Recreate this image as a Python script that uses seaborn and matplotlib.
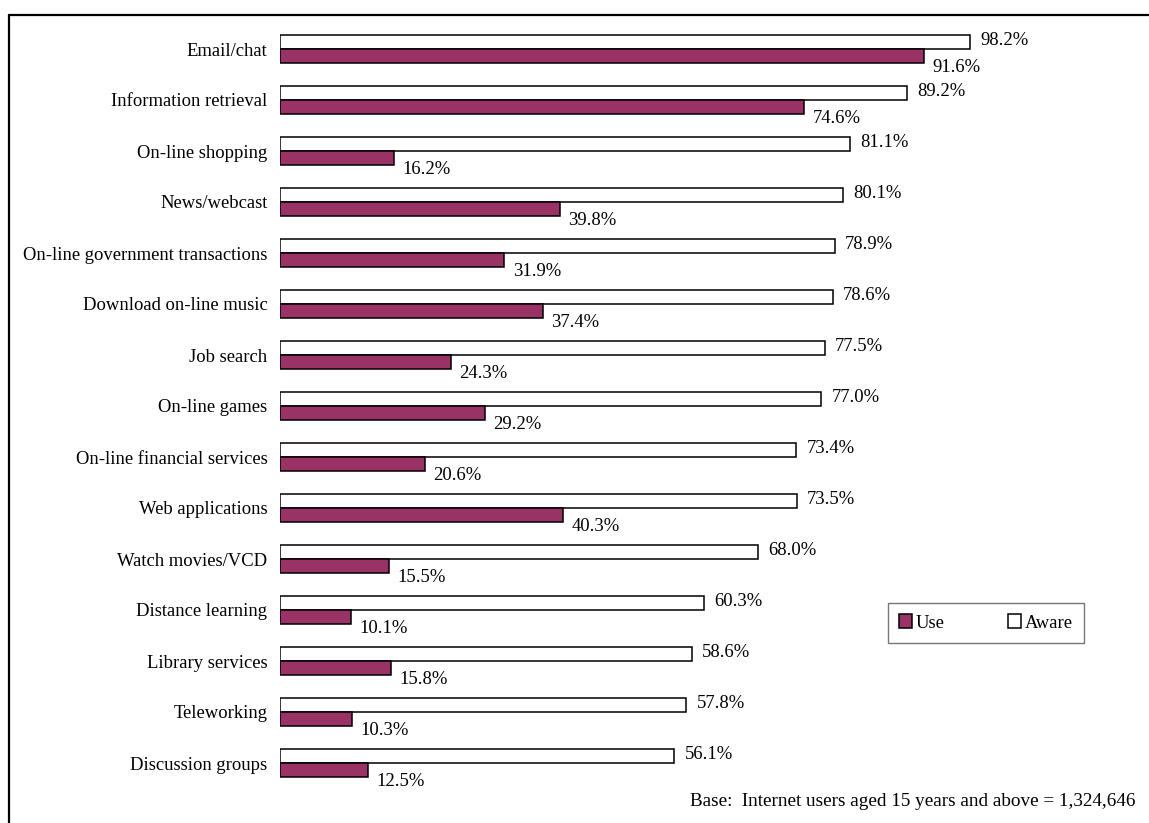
import matplotlib
matplotlib.use("Agg")
import matplotlib.pyplot as plt
from matplotlib.patches import Patch
from matplotlib.lines import Line2D
import seaborn as sns
import pandas as pd

services = [
    "Email/chat", "Information retrieval", "On-line shopping", "News/webcast",
    "On-line government transactions", "Download on-line music", "Job search",
    "On-line games", "On-line financial services", "Web applications",
    "Watch movies/VCD", "Distance learning", "Library services",
    "Teleworking", "Discussion groups",
]
aware = [98.2, 89.2, 81.1, 80.1, 78.9, 78.6, 77.5, 77.0, 73.4, 73.5, 68.0, 60.3, 58.6, 57.8, 56.1]
use = [91.6, 74.6, 16.2, 39.8, 31.9, 37.4, 24.3, 29.2, 20.6, 40.3, 15.5, 10.1, 15.8, 10.3, 12.5]

df = pd.DataFrame({
    "service": services * 2,
    "pct": aware + use,
    "group": ["Aware"] * len(services) + ["Use"] * len(services),
})

MAROON = "#993366"
sns.set_theme(style="white")
plt.rcParams["font.family"] = ["Liberation Serif", "DejaVu Serif"]
FS = 13.4

fig = plt.figure(figsize=(11.49, 8.23), dpi=100)
ax = fig.add_axes([280 / 1149, 1 - 788.5 / 823, (1140 - 280) / 1149, (788.5 - 23.5) / 823])

sns.barplot(
    data=df, y="service", x="pct", hue="group", order=services,
    hue_order=["Aware", "Use"], palette={"Aware": "white", "Use": MAROON},
    width=0.55, edgecolor="black", linewidth=1.1, orient="h", ax=ax,
    legend=False, saturation=1,
)

ax.set_xlim(0, (1140 - 280) / 7.03)
ax.set_ylim(len(services) - 0.5, -0.5)
ax.set_xlabel("")
ax.set_ylabel("")
ax.set_xticks([])
for s in ax.spines.values():
    s.set_visible(False)
ax.tick_params(axis="y", length=0, pad=9, labelsize=FS, labelcolor="black")

# value labels: "Aware" beside its bar, "Use" just below-right of its bar end
half = 0.55 / 4
for i, (a, u) in enumerate(zip(aware, use)):
    ax.annotate(f"{a:.1f}%", (a, i - half), xytext=(7.5, 1), textcoords="offset points",
                va="center", ha="left", fontsize=FS, color="black")
    ax.annotate(f"{u:.1f}%", (u, i + half), xytext=(6, -8), textcoords="offset points",
                va="center", ha="left", fontsize=FS, color="black")

handles = [
    Patch(facecolor=MAROON, edgecolor="black", linewidth=1.1, label="Use"),
    Patch(facecolor="white", edgecolor="black", linewidth=1.1, label="Aware"),
]
leg = fig.legend(
    handles=handles, ncol=2, loc="center",
    bbox_to_anchor=((884 + 1088) / 2 / 1149, 1 - 623 / 823),
    fontsize=FS, frameon=True, fancybox=False, handlelength=0.7, handleheight=0.7,
    handletextpad=0.2, columnspacing=3.4, borderpad=0.6, borderaxespad=0,
)
leg.get_frame().set_edgecolor("#555555")
leg.get_frame().set_linewidth(1.0)
for t in leg.get_texts():
    t.set_color("black")

fig.text(1136 / 1149, 1 - 801 / 823,
         "Base:  Internet users aged 15 years and above = 1,324,646",
         ha="right", va="center", fontsize=13.8, color="black")

# frame lines along the left and top edges of the figure
fig.add_artist(Line2D([9 / 1149, 9 / 1149], [0, 1 - 15 / 823], transform=fig.transFigure,
                      color="black", linewidth=1.6))
fig.add_artist(Line2D([9 / 1149, 1], [1 - 15 / 823, 1 - 15 / 823], transform=fig.transFigure,
                      color="black", linewidth=1.6))

fig.savefig("out.png", dpi=100)
